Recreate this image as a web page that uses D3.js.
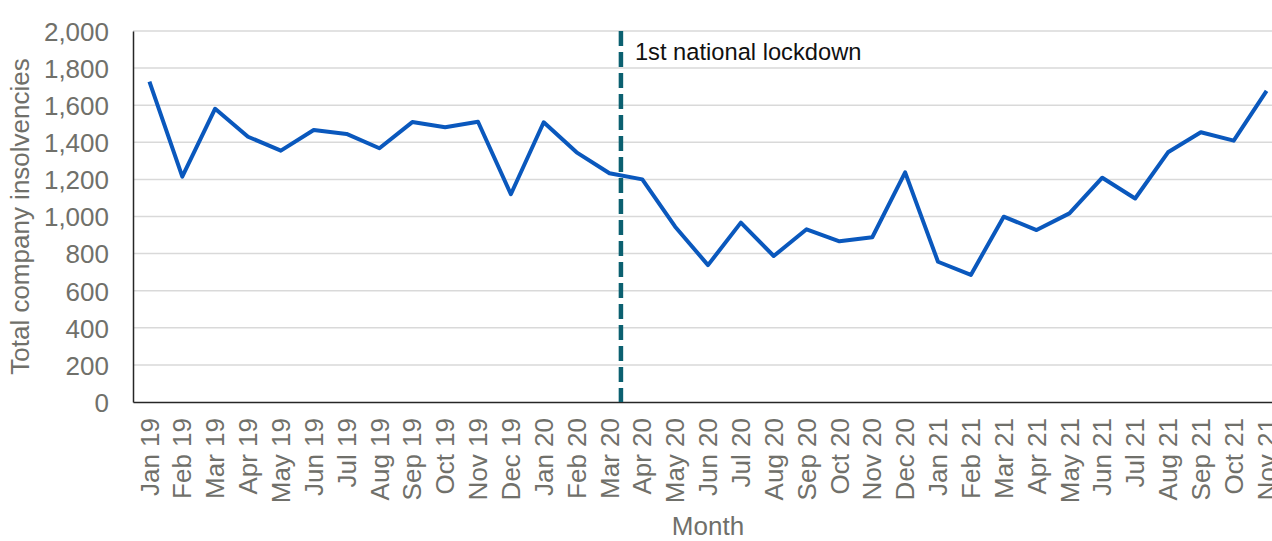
<!DOCTYPE html>
<meta charset="utf-8">
<style>
  body { margin: 0; background: #fff; }
  svg { display: block; overflow: hidden; }
  text { font-family: "Liberation Sans", Arial, sans-serif; }
</style>
<script src="https://d3js.org/d3.v7.min.js"></script>
<div id="chart"></div>
<script>

// months on the x axis
var months = ["Jan 19","Feb 19","Mar 19","Apr 19","May 19","Jun 19","Jul 19","Aug 19","Sep 19","Oct 19","Nov 19","Dec 19",
              "Jan 20","Feb 20","Mar 20","Apr 20","May 20","Jun 20","Jul 20","Aug 20","Sep 20","Oct 20","Nov 20","Dec 20",
              "Jan 21","Feb 21","Mar 21","Apr 21","May 21","Jun 21","Jul 21","Aug 21","Sep 21","Oct 21","Nov 21"];

// total company insolvencies per month
var insolvencies = [1727, 1215, 1581, 1430, 1355, 1466, 1445, 1368, 1509, 1481, 1511, 1120,
                    1508, 1346, 1233, 1200, 945, 738, 967, 787, 931, 866, 888, 1238,
                    756, 685, 999, 927, 1017, 1209, 1097, 1346, 1454, 1409, 1677];

var yTicks = [0, 200, 400, 600, 800, 1000, 1200, 1400, 1600, 1800, 2000];

// lockdown marker sits a little after the Mar 20 point
var lockdownMonth = "Mar 20", lockdownOffset = 0.35;
var lockdownLabel = "1st national lockdown";

var width = 1272, height = 541;
// plot runs past the right edge of the picture, as in the original
var margin = {top: 31, left: 133},
    plotRight = 1283,
    plotBottom = 402;

var svg = d3.select("#chart").append("svg")
    .attr("width", width)
    .attr("height", height);

var x = d3.scaleBand()
    .domain(months)
    .range([margin.left, plotRight])
    .padding(0);

var y = d3.scaleLinear()
    .domain([0, 2000])
    .range([plotBottom, margin.top]);

var grey = "#70706a";

// gridlines
svg.append("g").selectAll("line")
  .data(yTicks.filter(function(d) { return d > 0; }))
  .enter().append("line")
    .attr("x1", margin.left).attr("x2", plotRight)
    .attr("y1", function(d) { return y(d); })
    .attr("y2", function(d) { return y(d); })
    .attr("stroke", "#d9d9d9")
    .attr("stroke-width", 1.5);

// y axis
var yAxis = svg.append("g")
    .attr("transform", "translate(" + margin.left + ",0)")
    .call(d3.axisLeft(y).tickValues(yTicks).tickFormat(d3.format(",")).tickSize(0).tickPadding(24));
yAxis.select(".domain").attr("stroke", "#262626").attr("stroke-width", 1.5);
yAxis.selectAll("text")
    .attr("fill", grey)
    .style("font-size", "26px")
    .attr("dy", "0.36em");

// x axis
var xAxis = svg.append("g")
    .attr("transform", "translate(0," + plotBottom + ")")
    .call(d3.axisBottom(x).tickSize(0).tickSizeOuter(0));
xAxis.select(".domain").attr("stroke", "#262626").attr("stroke-width", 1.5);
xAxis.selectAll("text")
    .attr("fill", grey)
    .style("font-size", "26px")
    .attr("text-anchor", "end")
    .attr("transform", "rotate(-90)")
    .attr("x", -16)
    .attr("y", 0)
    .attr("dy", "0.35em");

// axis titles
svg.append("text")
    .attr("transform", "translate(29," + ((margin.top + plotBottom) / 2) + ") rotate(-90)")
    .attr("text-anchor", "middle")
    .attr("fill", grey)
    .style("font-size", "26px")
    .text("Total company insolvencies");

svg.append("text")
    .attr("x", (margin.left + plotRight) / 2)
    .attr("y", 535)
    .attr("text-anchor", "middle")
    .attr("fill", grey)
    .style("font-size", "26px")
    .text("Month");

// lockdown line
var lx = x(lockdownMonth) + x.bandwidth() / 2 + lockdownOffset * x.step();
svg.append("line")
    .attr("x1", lx).attr("x2", lx)
    .attr("y1", margin.top).attr("y2", plotBottom)
    .attr("stroke", "#0b6070")
    .attr("stroke-width", 4.5)
    .attr("stroke-dasharray", "15,6");

svg.append("text")
    .attr("x", lx + 14)
    .attr("y", 60)
    .attr("fill", "#111")
    .style("font-size", "23.7px")
    .text(lockdownLabel);

// the series
var line = d3.line()
    .x(function(d, i) { return x(months[i]) + x.bandwidth() / 2; })
    .y(function(d) { return y(d); });

svg.append("path")
    .datum(insolvencies)
    .attr("d", line)
    .attr("fill", "none")
    .attr("stroke", "#0a58bd")
    .attr("stroke-width", 4)
    .attr("stroke-linejoin", "round");

</script>
